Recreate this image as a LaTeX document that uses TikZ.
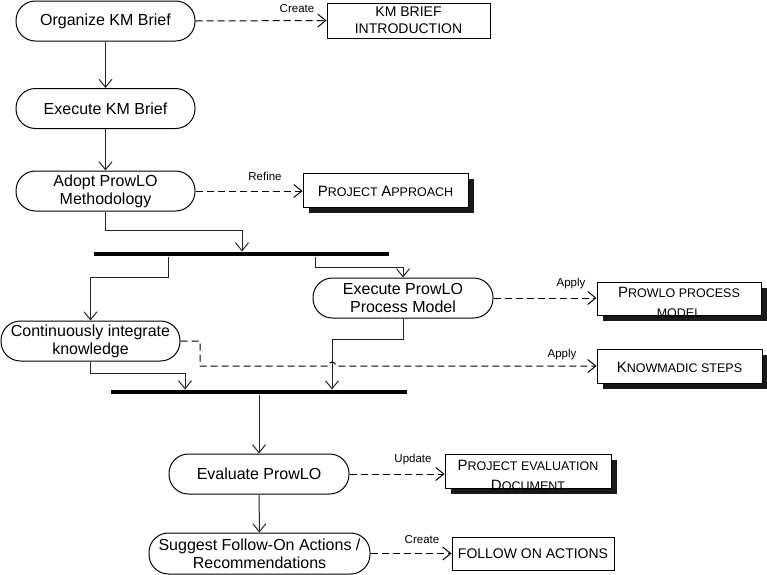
\documentclass[tikz,border=0pt]{standalone}
\usepackage{fontspec}
\setmainfont{Liberation Sans}
\usetikzlibrary{arrows.meta,shadows,calc}
\newcommand\bigcapl[1]{{\fontsize{15}{17}\selectfont #1}}
\begin{document}
\begin{tikzpicture}[x=1pt,y=-1pt,
  line width=1pt,
  pill/.style={draw=black, line width=1pt, rounded corners=19.5pt, minimum height=40pt, inner sep=0pt, align=center, font=\fontsize{16}{18}\selectfont},
  docbox/.style={draw=black, fill=white, line width=1pt, inner sep=0pt, align=center, font=\fontsize{14}{17}\selectfont},
  shad/.style={drop shadow={shadow xshift=6pt, shadow yshift=-6pt, fill=black!90, opacity=1}},
  scbox/.style={font=\fontsize{12.5}{17}\selectfont, align=center, inner sep=0pt},
  bar/.style={fill=black, inner sep=0pt, minimum height=4pt},
  arr/.style={draw=black!85, line width=1pt, -{Straight Barb[length=8pt,width=13pt]}},
  dsh/.style={arr, draw=black, dash pattern=on 7pt off 4pt},
  lbl/.style={font=\fontsize{11.5}{13}\selectfont, inner sep=0pt}]
\useasboundingbox[fill=white] (0,0) rectangle (767,574);

% activity nodes
\node[pill, minimum width=179pt] (org) at (105.5,21) {Organize KM Brief};
\node[pill, minimum width=179pt] (exe) at (105.5,108.5) {Execute KM Brief};
\node[pill, minimum width=179pt] (adopt) at (105.5,191) {Adopt ProwLO\\Methodology};
\node[bar, minimum width=295pt] (bar1) at (241.5,254) {};
\node[pill, minimum width=179pt] (cont) at (90.5,341) {Continuously integrate\\knowledge};
\node[pill, minimum width=180pt] (epm) at (403,298) {Execute ProwLO\\Process Model};
\node[bar, minimum width=296pt] (bar2) at (259,392) {};
\node[pill, minimum width=180pt] (eval) at (259,474) {Evaluate ProwLO};
\node[pill, minimum width=221pt, minimum height=41pt] (sug) at (259.5,553.5) {Suggest Follow-On Actions /\\Recommendations};

% artefact boxes
\node[docbox, minimum width=163pt, minimum height=35pt] (kmb) at (408.5,20.5) {KM BRIEF\\INTRODUCTION};
\node[docbox, shad, minimum width=165pt, minimum height=34pt] (pa) at (385.5,190) {};
\node[scbox] (patext) at (385.5,191) {\bigcapl{P}ROJECT \bigcapl{A}PPROACH};
\node[docbox, shad, minimum width=164pt, minimum height=33pt] (ppm) at (679,298.5) {};
\node[scbox, anchor=base] (ppmtext1) at (679,297) {\bigcapl{P}ROWLO PROCESS};
\node[scbox, anchor=base] (ppmtext2) at (679,317) {MODEL};
\node[docbox, shad, minimum width=165pt, minimum height=34pt] (ks) at (679.5,366) {};
\node[scbox] (kstext) at (679.5,367) {\bigcapl{K}NOWMADIC STEPS};
\node[docbox, shad, minimum width=166pt, minimum height=34pt] (ped) at (528,471) {};
\node[scbox, anchor=base] (pedtext1) at (528,470) {\bigcapl{P}ROJECT EVALUATION};
\node[scbox, anchor=base] (pedtext2) at (528,490) {\bigcapl{D}OCUMENT};
\node[docbox, minimum width=162pt, minimum height=33pt] (foa) at (533,553.5) {FOLLOW ON ACTIONS};

% control flow
\coordinate (j1) at (242,230);
\coordinate (j2) at (168,277);
\coordinate (j3) at (315,267);
\coordinate (j4) at (185,373);
\coordinate (j5) at (332,339);
\coordinate (j6) at (200,366);
\draw[arr] (org) -- (exe);
\draw[arr] (exe) -- (adopt);
\draw[arr] (adopt.south) |- (j1) -- (j1 |- bar1.north);
\draw[arr] (j2 |- bar1.south) -- (j2) -| (cont.north);
\draw[arr] (j3 |- bar1.south) -- (j3) -| (epm.north);
\draw[arr] (cont.south) |- (j4) -- (j4 |- bar2.north);
\draw[arr] (epm.south) |- (j5) -- (j5 |- bar2.north);
\draw[arr] (bar2.south) -- (eval.north);
\draw[arr] (eval) -- (sug);

% object flows
\draw[dsh] (org.east) -- (kmb.west);
\draw[dsh] (adopt.east) -- (adopt.east -| pa.west);
\draw[dsh] (epm.east) -- (epm.east -| ppm.west);
\draw[dsh] (cont.east) -| (j6) -- ($(j5 |- j6)+(-4,0)$) arc[start angle=180, end angle=0, radius=4pt] -- (ks.west);
\draw[dsh] (eval.east) -- (eval.east -| ped.west);
\draw[dsh] (sug.east) -- (foa.west);

% labels
\node[lbl] (l1) at (297,9) {Create};
\node[lbl] (l2) at (265,176) {Refine};
\node[lbl] (l3) at (571,284) {Apply};
\node[lbl] (l4) at (562,355) {Apply};
\node[lbl] (l5) at (413,460) {Update};
\node[lbl] (l6) at (422,540) {Create};
\end{tikzpicture}
\end{document}
